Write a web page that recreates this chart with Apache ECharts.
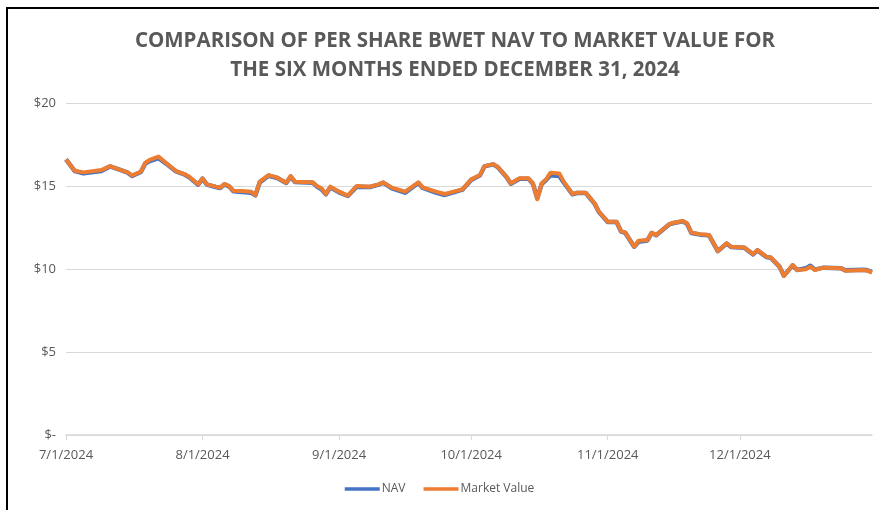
<!DOCTYPE html>
<html><head><meta charset="utf-8">
<script src="https://cdn.jsdelivr.net/npm/echarts@6/dist/echarts.min.js"></script>
<style>html,body{margin:0;padding:0;background:#fff}#c{width:879px;height:510px}</style>
</head><body><div id="c"></div>
<script>
const titleLines = ['COMPARISON OF PER SHARE BWET NAV TO MARKET VALUE FOR', 'THE SIX MONTHS ENDED DECEMBER 31, 2024'];
const seriesNames = ['NAV', 'Market Value'];
const dates = [
 '2024-07-01','2024-07-03','2024-07-05','2024-07-09','2024-07-11','2024-07-13','2024-07-15','2024-07-16','2024-07-18','2024-07-19',
 '2024-07-20','2024-07-22','2024-07-24','2024-07-26','2024-07-28','2024-07-29','2024-07-31','2024-08-01','2024-08-02','2024-08-04',
 '2024-08-05','2024-08-06','2024-08-07','2024-08-08','2024-08-10','2024-08-12','2024-08-13','2024-08-14','2024-08-16','2024-08-18',
 '2024-08-20','2024-08-21','2024-08-22','2024-08-26','2024-08-27','2024-08-28','2024-08-29','2024-08-30','2024-09-01','2024-09-03',
 '2024-09-05','2024-09-08','2024-09-10','2024-09-11','2024-09-13','2024-09-16','2024-09-19','2024-09-20','2024-09-23','2024-09-25',
 '2024-09-27','2024-09-29','2024-10-01','2024-10-03','2024-10-04','2024-10-06','2024-10-07','2024-10-09','2024-10-10','2024-10-12',
 '2024-10-14','2024-10-15','2024-10-16','2024-10-17','2024-10-18','2024-10-19','2024-10-21','2024-10-22','2024-10-24','2024-10-25',
 '2024-10-27','2024-10-29','2024-10-30','2024-11-01','2024-11-03','2024-11-04','2024-11-05','2024-11-07','2024-11-08','2024-11-10',
 '2024-11-11','2024-11-12','2024-11-15','2024-11-16','2024-11-18','2024-11-19','2024-11-20','2024-11-22','2024-11-24','2024-11-26',
 '2024-11-28','2024-11-29','2024-12-02','2024-12-04','2024-12-05','2024-12-07','2024-12-08','2024-12-10','2024-12-11','2024-12-13',
 '2024-12-14','2024-12-16','2024-12-17','2024-12-18','2024-12-20','2024-12-24','2024-12-25','2024-12-29','2024-12-30','2024-12-31'
];
const marketValues = [
 16.6,15.92,15.82,15.96,16.2,16.0,15.82,15.64,15.86,16.4,
 16.57,16.77,16.33,15.9,15.7,15.56,15.1,15.46,15.1,14.96,
 14.9,15.12,15.0,14.72,14.7,14.66,14.46,15.26,15.66,15.5,
 15.2,15.6,15.26,15.22,15.0,14.86,14.52,14.96,14.66,14.42,
 15.0,14.96,15.1,15.22,14.9,14.66,15.22,14.92,14.66,14.52,
 14.66,14.8,15.4,15.66,16.2,16.32,16.16,15.56,15.16,15.46,
 15.46,15.16,14.2,15.16,15.4,15.8,15.76,15.26,14.52,14.6,
 14.6,13.96,13.45,12.85,12.85,12.29,12.19,11.34,11.7,11.75,
 12.19,12.05,12.71,12.79,12.89,12.75,12.19,12.09,12.05,11.08,
 11.55,11.34,11.3,10.9,11.14,10.74,10.7,10.14,9.58,10.24,
 9.94,9.98,10.14,9.94,10.08,10.04,9.9,9.94,9.9,9.78
];
const navValues = [
 16.6,15.9,15.76,15.9,16.18,16.0,15.8,15.6,15.84,16.36,
 16.5,16.68,16.3,15.88,15.68,15.52,15.08,15.44,15.08,14.94,
 14.88,15.1,14.98,14.68,14.64,14.6,14.44,15.22,15.62,15.48,
 15.18,15.56,15.24,15.2,14.96,14.8,14.5,14.92,14.62,14.4,
 14.96,14.94,15.08,15.2,14.86,14.6,15.18,14.88,14.6,14.46,
 14.62,14.78,15.36,15.64,16.18,16.3,16.14,15.54,15.14,15.44,
 15.44,15.14,14.26,15.12,15.36,15.65,15.6,15.22,14.5,14.58,
 14.58,13.94,13.43,12.83,12.83,12.27,12.17,11.34,11.64,11.72,
 12.17,12.03,12.69,12.77,12.87,12.73,12.17,12.07,12.03,11.08,
 11.53,11.32,11.28,10.88,11.12,10.72,10.68,10.14,9.6,10.22,
 9.94,10.04,10.2,9.96,10.08,10.04,9.92,9.96,9.92,9.82
];
const yMin = 0, yMax = 20, yStep = 5;
const xMin = '2024-07-01', xMax = '2024-12-31';

const navData = dates.map((d, i) => [d, navValues[i]]);
const mvData = dates.map((d, i) => [d, marketValues[i]]);
const chart = echarts.init(document.getElementById('c'));
const grey = '#595959';
chart.setOption({
  animation: false,
  backgroundColor: '#fff',
  title: {
    text: titleLines.join('\n'),
    left: 450, top: 22, textAlign: 'center',
    textStyle: { fontFamily: 'Open Sans', fontWeight: 'bold', fontSize: 20.5, color: grey, lineHeight: 29 }
  },
  graphic: [
    { type: 'line', shape: { x1: 6, y1: 8, x2: 879, y2: 8 }, style: { stroke: '#000', lineWidth: 2 } },
    { type: 'line', shape: { x1: 7, y1: 8, x2: 7, y2: 510 }, style: { stroke: '#000', lineWidth: 2 } }
  ],
  legend: {
    data: seriesNames, bottom: 10, left: 'center', itemWidth: 35, itemHeight: 3.5, itemGap: 18, icon: 'rect',
    textStyle: { fontFamily: 'Open Sans', fontSize: 12, color: grey, padding: [0, 0, 0, -3] }
  },
  grid: { left: 66, right: 7, top: 103, bottom: 75, containLabel: false },
  xAxis: {
    type: 'time', min: xMin, max: xMax,
    minInterval: 28 * 86400000, maxInterval: 31 * 86400000,
    axisLine: { lineStyle: { color: '#d9d9d9', width: 1.5 } },
    axisTick: { show: true, length: 5, lineStyle: { color: '#d9d9d9' } },
    splitLine: { show: false },
    axisLabel: {
      fontFamily: 'Open Sans', fontSize: 13, color: grey, margin: 14, showMaxLabel: false,
      formatter: v => { const d = new Date(v); return (d.getMonth() + 1) + '/' + d.getDate() + '/' + d.getFullYear(); }
    }
  },
  yAxis: {
    type: 'value', min: yMin, max: yMax, interval: yStep,
    axisLine: { show: false }, axisTick: { show: false },
    splitLine: { lineStyle: { color: '#d9d9d9', width: 1.2 } },
    axisLabel: { fontFamily: 'Open Sans', fontSize: 13, color: grey, margin: 10,
      formatter: v => v === 0 ? '$-' : '$' + v }
  },
  series: [
    { name: seriesNames[0], type: 'line', data: navData, showSymbol: false, symbol: 'none',
      color: '#4472C4', lineStyle: { width: 4.5, color: '#4472C4', join: 'round' } },
    { name: seriesNames[1], type: 'line', data: mvData, showSymbol: false, symbol: 'none',
      color: '#ED7D31', lineStyle: { width: 4, color: '#ED7D31', join: 'round' } }
  ]
});
</script></body></html>
